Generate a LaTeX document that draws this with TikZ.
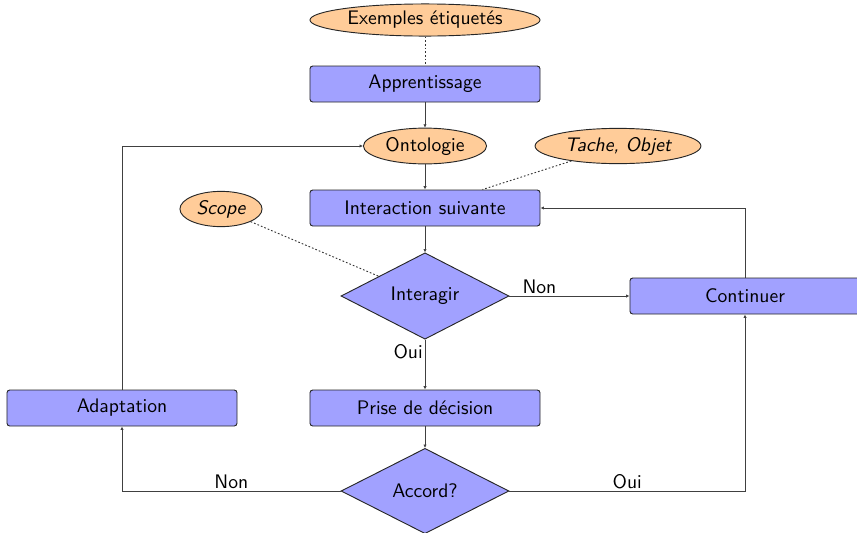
\documentclass[tikz,border=0pt]{standalone}
\usetikzlibrary{shapes.geometric,arrows.meta}
\begin{document}
\begin{tikzpicture}[x=0.019cm,y=-0.019cm,
  font=\sffamily\fontsize{10.6}{12.7}\selectfont,
  every node/.style={inner sep=2pt},
  stepbox/.style={draw=black!85,line width=0.5pt,fill=blue!37,rounded corners=1.5pt,
    minimum width=4.37cm,minimum height=0.684cm},
  datum/.style={draw=black!85,line width=0.5pt,fill=orange!40,ellipse,inner sep=0pt},
  choice/.style={draw=black!85,line width=0.5pt,fill=blue!37,diamond,inner sep=0pt,
    minimum width=3.19cm,minimum height=1.62cm},
  flow/.style={draw=black!75,line width=0.42pt,-{Latex[length=1.8pt,width=1.8pt]}},
  link/.style={draw=black!80,line width=0.5pt,dash pattern=on 0.9pt off 1.1pt}]
\useasboundingbox (0,0) rectangle (857,532);

% nodes
\node[datum,minimum width=4.37cm,minimum height=0.61cm] (ex) at (425,20) {Exemples étiquetés};
\node[stepbox] (app) at (425,84) {Apprentissage};
\node[datum,minimum width=2.34cm,minimum height=0.68cm] (onto) at (425,146) {Ontologie};
\node[datum,minimum width=3.15cm,minimum height=0.67cm] (tache) at (618,146) {\itshape Tache, Objet};
\node[stepbox] (inter) at (425,208) {Interaction suivante};
\node[datum,minimum width=1.56cm,minimum height=0.67cm] (scope) at (221,209) {\itshape Scope};
\node[choice] (agir) at (425,296) {Interagir};
\node[stepbox] (cont) at (745,296) {Continuer};
\node[stepbox] (adapt) at (122,408) {Adaptation};
\node[stepbox] (prise) at (425,408) {Prise de décision};
\node[choice] (accord) at (425,491) {Accord?};

% dotted annotations
\draw[link] (ex) -- (app);
\draw[link] (tache) -- (inter);
\draw[link] (scope) -- (agir);

% main flow
\draw[flow] (app) -- (onto);
\draw[flow] (onto) -- (inter);
\draw[flow] (inter) -- (agir);
\draw[flow] (agir) -- node[pos=0.25,above,inner sep=1pt] {Non} (cont);
\draw[flow] (agir.south) -- node[pos=0.25,left,inner sep=1pt] {Oui} (prise);
\draw[flow] (prise) -- (accord);
\draw[flow] (accord.west) -- node[above,inner sep=1pt] {Non} (adapt.south |- accord.west) -- (adapt.south);
\draw[flow] (accord.east) -- node[above,inner sep=1pt] {Oui} (cont.south |- accord.east) -- (cont.south);
\draw[flow] (cont.north) -- (cont.north |- inter.east) -- (inter.east);
\draw[flow] (adapt.north) -- (adapt.north |- onto.west) -- (onto.west);
\end{tikzpicture}
\end{document}
